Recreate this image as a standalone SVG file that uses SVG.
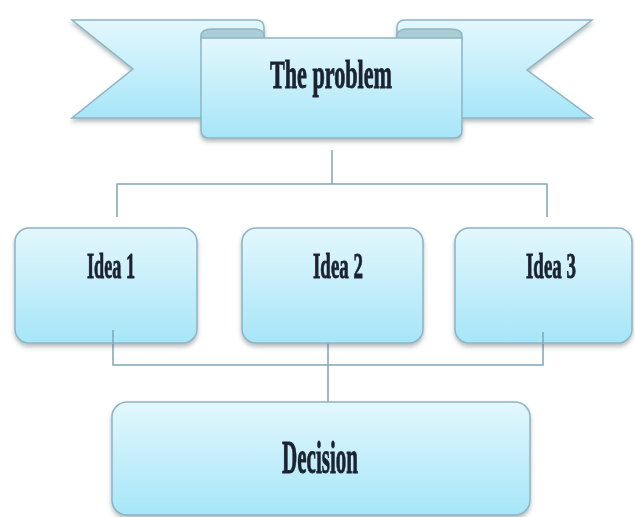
<svg xmlns="http://www.w3.org/2000/svg" width="635" height="517" viewBox="0 0 635 517">
  <defs>
    <linearGradient id="fillGrad" x1="0" y1="0" x2="0" y2="1">
      <stop offset="0" stop-color="#e3f7fd"/>
      <stop offset="1" stop-color="#a6e6f8"/>
    </linearGradient>
    <filter id="shadow" x="-10%" y="-10%" width="120%" height="130%">
      <feDropShadow dx="0" dy="3" stdDeviation="2" flood-color="#5a6a70" flood-opacity="0.45"/>
    </filter>
    <style>
      .shape { fill: url(#fillGrad); stroke: #8fb4c2; stroke-width: 1.5; }
      .curl { fill: #aacdd8; stroke: #8fb4c2; stroke-width: 1.5; }
      .conn { fill: none; stroke: #7ea7b6; stroke-width: 1.5; }
      .lbl { font-family: "Liberation Serif", "Times New Roman", serif; font-weight: bold; fill: #1b2230; stroke: #1b2230; stroke-width: 0.9; text-anchor: middle; }
    </style>
  </defs>
  <rect width="635" height="517" fill="#ffffff"/>

  <g id="connectors">
    <path class="conn" d="M332,150 V184 M117,217 V184 H547 V217"/>
    <path class="conn" d="M113,330 V365 H543 V332 M328,343 V402"/>
  </g>

  <g id="problem" filter="url(#shadow)">
    <path class="shape" d="M72,20 L256,20 Q264,20 264,28 L264,118 L72,118 L133,69 Z"/>
    <path class="shape" d="M592,20 L405,20 Q397,20 397,28 L397,118 L592,118 L527,70 Z"/>
    <path class="curl" d="M201,40 L201,36 Q201,29 212,29 L256,29 Q264,30 264,36 L264,40 Z"/>
    <path class="curl" d="M462,40 L462,36 Q462,29 451,29 L405,29 Q397,30 397,36 L397,40 Z"/>
    <path class="shape" d="M201,38 L462,38 L462,130 Q462,138 454,138 L209,138 Q201,138 201,130 Z"/>
    <text class="lbl" x="331" y="88" font-size="40" textLength="122" lengthAdjust="spacingAndGlyphs">The problem</text>
  </g>

  <g id="idea1" filter="url(#shadow)">
    <rect class="shape" x="15" y="228" width="182" height="115" rx="14"/>
    <text class="lbl" x="111" y="278" font-size="35" textLength="48" lengthAdjust="spacingAndGlyphs">Idea 1</text>
  </g>
  <g id="idea2" filter="url(#shadow)">
    <rect class="shape" x="242" y="228" width="181" height="115" rx="14"/>
    <text class="lbl" x="338" y="278" font-size="35" textLength="50" lengthAdjust="spacingAndGlyphs">Idea 2</text>
  </g>
  <g id="idea3" filter="url(#shadow)">
    <rect class="shape" x="455" y="228" width="177" height="115" rx="14"/>
    <text class="lbl" x="551" y="278" font-size="35" textLength="50" lengthAdjust="spacingAndGlyphs">Idea 3</text>
  </g>

  <g id="connectors-over">
    <path class="conn" d="M113,330 V343 M543,332 V343"/>
  </g>

  <g id="decision" filter="url(#shadow)">
    <rect class="shape" x="112" y="402" width="418" height="113" rx="15"/>
    <text class="lbl" x="320" y="473" font-size="47" textLength="76" lengthAdjust="spacingAndGlyphs">Decision</text>
  </g>
</svg>
